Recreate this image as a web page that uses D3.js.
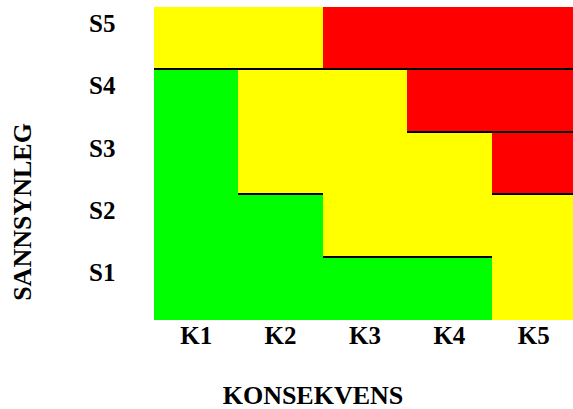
<!DOCTYPE html>
<meta charset="utf-8">
<style>
  body { margin: 0; background: #fff; }
  svg text { font-family: "Liberation Serif", "Times New Roman", serif; font-weight: bold; fill: #000; }
</style>
<svg width="573" height="409"></svg>
<script src="https://cdn.jsdelivr.net/npm/d3@7"></script>
<script>
  // data
  var cols = ["K1", "K2", "K3", "K4", "K5"];
  var rows = ["S5", "S4", "S3", "S2", "S1"];
  // zone per row (S5..S1), per column K1..K5
  var zones = [
    ["Y", "Y", "R", "R", "R"],
    ["G", "Y", "Y", "R", "R"],
    ["G", "Y", "Y", "Y", "R"],
    ["G", "G", "Y", "Y", "Y"],
    ["G", "G", "G", "G", "Y"]
  ];
  // black border lines on top of a row, from column to column
  var borders = [
    { row: "S4", from: "K1", to: "K5" },
    { row: "S3", from: "K4", to: "K5" },
    { row: "S2", from: "K2", to: "K2" },
    { row: "S2", from: "K5", to: "K5" },
    { row: "S1", from: "K3", to: "K4" }
  ];
  var xTitle = "KONSEKVENS";
  var yTitle = "SANNSYNLEG";

  var svg = d3.select("svg");
  var color = d3.scaleOrdinal().domain(["G", "Y", "R"]).range(["#00ff00", "#ffff00", "#ff0000"]);

  var x = d3.scaleBand().domain(cols).range([154, 576]);
  var y = d3.scaleBand().domain(rows).range([7, 319]);

  var cells = [];
  rows.forEach(function(r, i) {
    cols.forEach(function(c, j) { cells.push({ row: r, col: c, z: zones[i][j] }); });
  });

  svg.append("g")
    .attr("shape-rendering", "crispEdges")
    .selectAll("rect")
    .data(cells)
    .enter().append("rect")
      .attr("x", function(d) { return x(d.col); })
      .attr("y", function(d) { return y(d.row); })
      .attr("width", x.bandwidth() + 1)
      .attr("height", y.bandwidth() + 1)
      .attr("fill", function(d) { return color(d.z); });

  svg.append("g")
    .attr("shape-rendering", "crispEdges")
    .selectAll("line")
    .data(borders)
    .enter().append("line")
      .attr("x1", function(d) { return x(d.from); })
      .attr("x2", function(d) { return x(d.to) + x.bandwidth(); })
      .attr("y1", function(d) { return y(d.row); })
      .attr("y2", function(d) { return y(d.row); })
      .attr("stroke", "#000")
      .attr("stroke-width", 2);

  // x tick labels
  svg.append("g").selectAll("text")
    .data(cols)
    .enter().append("text")
      .attr("x", function(d) { return x(d) + x.bandwidth() / 2; })
      .attr("y", 344)
      .attr("text-anchor", "middle")
      .attr("font-size", 25)
      .text(function(d) { return d; });

  // y tick labels
  svg.append("g").selectAll("text")
    .data(rows)
    .enter().append("text")
      .attr("x", 89)
      .attr("y", function(d) { return y(d) + y.bandwidth() / 2 - 6.5; })
      .attr("font-size", 25)
      .text(function(d) { return d; });

  svg.append("text")
    .attr("x", 313)
    .attr("y", 404)
    .attr("text-anchor", "middle")
    .attr("font-size", 26)
    .text(xTitle);

  svg.append("text")
    .attr("transform", "translate(31,212) rotate(-90)")
    .attr("text-anchor", "middle")
    .attr("font-size", 26)
    .text(yTitle);
</script>
